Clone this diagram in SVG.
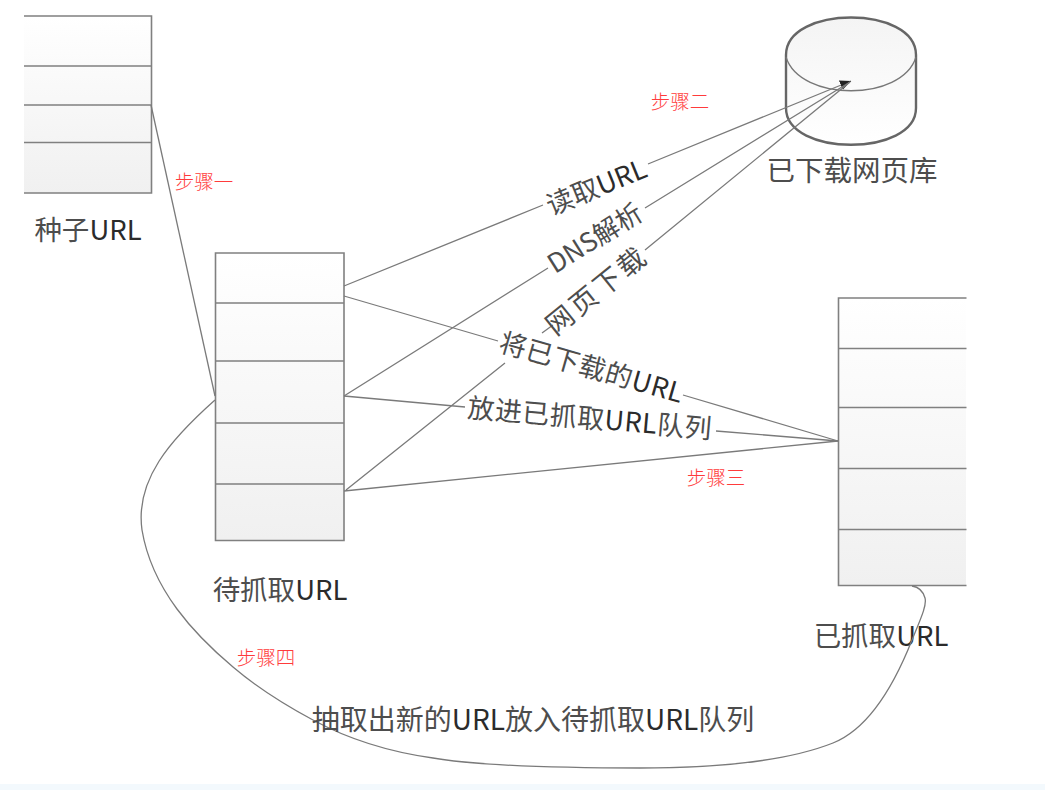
<svg xmlns="http://www.w3.org/2000/svg" width="1045" height="790" viewBox="0 0 1045 790">
<style>
.t{font-family:"Noto Sans CJK SC","Noto Sans",sans-serif;font-size:27.5px;fill:#4d4d4d;text-anchor:middle;font-weight:400}
.u{fill:#2b2b2b}
.s{font-family:"Noto Sans CJK SC",sans-serif;font-size:19.5px;fill:#ff3b3b;text-anchor:middle;font-weight:300}
.b{fill:url(#g);stroke:none}
.l{stroke:#808080;stroke-width:1.6;fill:none}
.c{stroke:#7a7a7a;stroke-width:1.3;fill:none}
</style>
<defs>
<linearGradient id="g" x1="0" y1="0" x2="0" y2="1"><stop offset="0" stop-color="#ffffff"/><stop offset="1" stop-color="#f0f0f0"/></linearGradient>
<linearGradient id="d" x1="0" y1="0" x2="0" y2="1"><stop offset="0" stop-color="#f4f4f4"/><stop offset="1" stop-color="#ffffff"/></linearGradient>
<marker id="a" markerUnits="userSpaceOnUse" markerWidth="14" markerHeight="12" refX="11" refY="5" orient="auto"><path d="M0 0L11 5L0 10Z" fill="#222"/></marker>
</defs>
<rect width="1045" height="790" fill="#ffffff"/>
<rect y="784" width="1045" height="6" fill="#f3f9fd"/>
<g id="seed-queue">
<rect class="b" x="24" y="16" width="127" height="177"/>
<path class="l" d="M24 16H151.500V193H24M24 66H151.500M24 105H151.500M24 142.500H151.500"/>
<text class="t" x="88" y="240">种子<tspan class="u">URL</tspan></text>
</g>
<g id="pending-queue">
<rect class="b" x="215" y="253" width="129" height="287"/>
<path class="l" d="M215.500 253H344V540.500H215.500ZM215.500 303H344M215.500 361H344M215.500 423H344M215.500 484H344"/>
<text class="t" x="280" y="600">待抓取<tspan class="u">URL</tspan></text>
</g>
<g id="done-queue">
<rect class="b" x="838" y="298" width="128" height="287"/>
<path class="l" d="M966.500 298H838.500V585.500H966.500M838.500 348.500H966.500M838.500 407.500H966.500M838.500 468.500H966.500M838.500 529.500H966.500"/>
<text class="t" x="881" y="646">已抓取<tspan class="u">URL</tspan></text>
</g>
<g id="page-store">
<path d="M786 55C786 5 916 5 916 55V108C916 157 786 157 786 108Z" fill="url(#d)" stroke="#666" stroke-width="2.400"/>
<path d="M786 57C800 102 902 102 916 57" fill="none" stroke="#777" stroke-width="1.300"/>
<text class="t" x="852" y="181" style="font-size:28.500px">已下载网页库</text>
</g>
<g id="connectors">
<path class="c" d="M151 105L215 396"/>
<path class="c" d="M344 286L543 205M648 164L851 81" marker-end="url(#a)"/>
<path class="c" d="M344 396L548 268M645 208L850 82"/>
<path class="c" d="M346 490L505 363M542 333L553 325M645 250L850 82"/>
<path class="c" d="M344 296L498 341M683 395L838 441"/>
<path class="c" d="M344 396L465 407M716 431L838 441"/>
<path class="c" d="M344 491L838 441"/>
<path class="c" d="M215 400C170 440 135 480 142 530C152 590 195 635 233 667C260 690 285 705 313 720C350 740 390 752 433 758C480 766 560 768 640 768C720 768 790 760 833 743C868 729 893 688 912 640C921 618 927 605 925 598C923 591 919 587 912 586"/>
</g>
<g id="connector-labels">
<text class="t" transform="translate(600 196) rotate(-22)" style="font-size:27px">读取<tspan class="u">URL</tspan></text>
<text class="t" transform="translate(600 246) rotate(-32)" style="font-size:26.500px">DNS解析</text>
<text class="t" transform="translate(603 298) rotate(-39)" style="letter-spacing:3px">网页下载</text>
<text class="t" transform="translate(589 377) rotate(16)" style="font-size:27px;letter-spacing:.5px">将已下载的<tspan class="u">URL</tspan></text>
<text class="t" transform="translate(589 428) rotate(5)" style="font-size:27px;letter-spacing:.5px">放进已抓取<tspan class="u">URL</tspan>队列</text>
<text class="t" x="533" y="730" style="font-size:28px">抽取出新的<tspan class="u">URL</tspan>放入待抓取<tspan class="u">URL</tspan>队列</text>
</g>
<g id="step-labels">
<text class="s" x="204" y="189">步骤一</text>
<text class="s" x="680" y="109">步骤二</text>
<text class="s" x="716" y="485">步骤三</text>
<text class="s" x="266" y="665">步骤四</text>
</g>
</svg>
